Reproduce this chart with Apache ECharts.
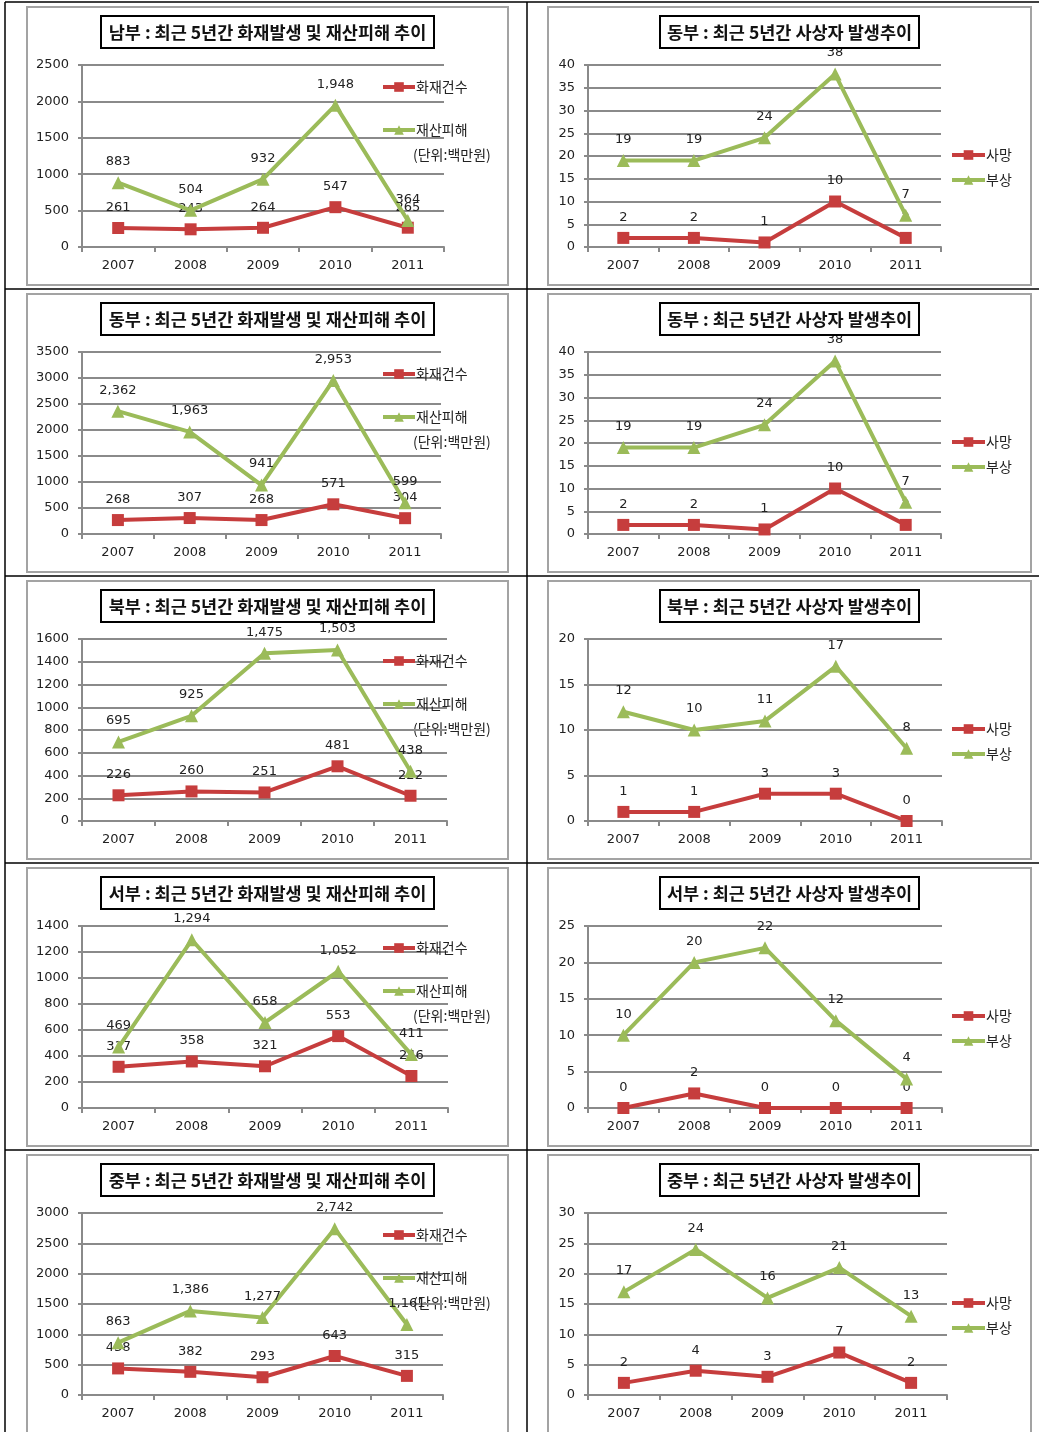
<!DOCTYPE html>
<html>
<head>
<meta charset="utf-8">
<script src="https://cdn.jsdelivr.net/npm/echarts@6/dist/echarts.min.js"></script>
<style>
  html, body { margin: 0; padding: 0; background: #fff; }
  #chart { width: 1039px; height: 1432px; }
</style>
</head>
<body>
<div id="chart"></div>
<script>
// Years on the category axis
const years = ['2007', '2008', '2009', '2010', '2011'];

// Fire counts (화재건수) and property damage (재산피해, 백만원) by district
const southFire = [261, 243, 264, 547, 265];
const southDamage = [883, 504, 932, 1948, 364];
const eastFire = [268, 307, 268, 571, 304];
const eastDamage = [2362, 1963, 941, 2953, 599];
const northFire = [226, 260, 251, 481, 222];
const northDamage = [695, 925, 1475, 1503, 438];
const westFire = [317, 358, 321, 553, 246];
const westDamage = [469, 1294, 658, 1052, 411];
const centralFire = [438, 382, 293, 643, 315];
const centralDamage = [863, 1386, 1277, 2742, 1161];

// Deaths (사망) and injuries (부상) by district
const eastDeaths = [2, 2, 1, 10, 2];
const eastInjuries = [19, 19, 24, 38, 7];
const northDeaths = [1, 1, 3, 3, 0];
const northInjuries = [12, 10, 11, 17, 8];
const westDeaths = [0, 2, 0, 0, 0];
const westInjuries = [10, 20, 22, 12, 4];
const centralDeaths = [2, 4, 3, 7, 2];
const centralInjuries = [17, 24, 16, 21, 13];

// Value-axis ranges
const fireAxisMax = [2500, 3500, 1600, 1400, 3000];
const fireAxisStep = [500, 500, 200, 200, 500];
const casualtyAxisMax = [40, 40, 20, 25, 30];
const casualtyAxisStep = [5, 5, 5, 5, 5];

const fireTitles = [
  '남부 : 최근 5년간 화재발생 및 재산피해 추이',
  '동부 : 최근 5년간 화재발생 및 재산피해 추이',
  '북부 : 최근 5년간 화재발생 및 재산피해 추이',
  '서부 : 최근 5년간 화재발생 및 재산피해 추이',
  '중부 : 최근 5년간 화재발생 및 재산피해 추이'
];
const casualtyTitles = [
  '동부 : 최근 5년간 사상자 발생추이',
  '동부 : 최근 5년간 사상자 발생추이',
  '북부 : 최근 5년간 사상자 발생추이',
  '서부 : 최근 5년간 사상자 발생추이',
  '중부 : 최근 5년간 사상자 발생추이'
];
const fireSeries = [
  [southFire, southDamage],
  [eastFire, eastDamage],
  [northFire, northDamage],
  [westFire, westDamage],
  [centralFire, centralDamage]
];
const casualtySeries = [
  [eastDeaths, eastInjuries],
  [eastDeaths, eastInjuries],
  [northDeaths, northInjuries],
  [westDeaths, westInjuries],
  [centralDeaths, centralInjuries]
];

// ---- layout ----
const ROW_H = 287;
const FONT = '"Noto Sans CJK KR", "Noto Sans", sans-serif';
const NUM_FONT = '"DejaVu Sans", "Noto Sans CJK KR", sans-serif';
const RED = '#C63D3D';
const GREEN = '#9BBB59';
const GRID_GRAY = '#8a8a8a';
const leftPlotRight = [444, 441, 447, 448, 443];
const rightPlotRight = [941, 941, 942, 942, 947];

const withCommas = v => String(v).replace(/\B(?=(\d{3})+(?!\d))/g, ',');

const grids = [], xAxes = [], yAxes = [], series = [], legends = [], graphics = [];

function addPanel(gridLeft, gridRight, top, max, step, pair, names, fmt) {
  const idx = grids.length;
  grids.push({ left: gridLeft, top: top, width: gridRight - gridLeft, height: 182 });
  xAxes.push({
    type: 'category', gridIndex: idx, data: years, boundaryGap: true,
    axisLine: { lineStyle: { color: '#8a8a8a', width: 2 } },
    axisTick: { show: true, length: 5, lineStyle: { color: '#8a8a8a', width: 2 } },
    axisLabel: { color: '#222', fontSize: 13, fontFamily: NUM_FONT, margin: 12 }
  });
  yAxes.push({
    type: 'value', gridIndex: idx, min: 0, max: max, interval: step,
    axisLine: { show: true, lineStyle: { color: '#8a8a8a', width: 2 } },
    axisTick: { show: true, length: 4, lineStyle: { color: '#8a8a8a', width: 2 } },
    axisLabel: { color: '#222', fontSize: 13, fontFamily: NUM_FONT, margin: 13,
      formatter: v => String(v) },
    splitLine: { show: true, lineStyle: { color: GRID_GRAY, width: 2 } }
  });
  const label = {
    show: true, position: 'top', distance: 8, color: '#222',
    fontSize: 13, fontFamily: NUM_FONT, formatter: p => fmt(p.value)
  };
  series.push({
    name: names[0], type: 'line', xAxisIndex: idx, yAxisIndex: idx, data: pair[0],
    symbol: 'rect', symbolSize: 12, lineStyle: { color: RED, width: 4 },
    itemStyle: { color: RED }, label: label, z: 3
  });
  series.push({
    name: names[1], type: 'line', xAxisIndex: idx, yAxisIndex: idx, data: pair[1],
    symbol: 'triangle', symbolSize: 13, lineStyle: { color: GREEN, width: 4 },
    itemStyle: { color: GREEN }, label: label, z: 4
  });
}

function titleBox(x, y, w, text) {
  graphics.push({
    type: 'rect', shape: { x: x, y: y, width: w, height: 32 },
    style: { fill: '#fff', stroke: '#000', lineWidth: 2 }, z: 10
  });
  graphics.push({
    type: 'text', x: x + w / 2, y: y + 16, z: 11,
    style: {
      text: text, fill: '#111', font: 'bold 17.5px ' + FONT,
      textAlign: 'center', textVerticalAlign: 'middle'
    }
  });
}

// table rules
for (let r = 0; r < 5; r++) {
  graphics.push({ type: 'line', shape: { x1: 5, y1: 2 + ROW_H * r, x2: 1039, y2: 2 + ROW_H * r },
    style: { stroke: '#000', lineWidth: 1.5 } });
}
graphics.push({ type: 'line', shape: { x1: 5, y1: 2, x2: 5, y2: 1432 }, style: { stroke: '#000', lineWidth: 1.5 } });
graphics.push({ type: 'line', shape: { x1: 527, y1: 2, x2: 527, y2: 1432 }, style: { stroke: '#000', lineWidth: 1.5 } });

const legendBase = {
  orient: 'vertical', itemWidth: 32, itemHeight: 12, selectedMode: false, padding: 0,
  lineStyle: { width: 4 },
  textStyle: { color: '#222', fontSize: 14, fontFamily: FONT, lineHeight: 14, padding: [0, 0, 0, -4] }
};

for (let r = 0; r < 5; r++) {
  const off = ROW_H * r;
  // chart frames
  graphics.push({ type: 'rect', shape: { x: 27, y: 7 + off, width: 481, height: 278 },
    style: { fill: 'none', stroke: '#a3a3a3', lineWidth: 2 } });
  graphics.push({ type: 'rect', shape: { x: 548, y: 7 + off, width: 483, height: 278 },
    style: { fill: 'none', stroke: '#a3a3a3', lineWidth: 2 } });

  titleBox(101, 16 + off, 333, fireTitles[r]);
  titleBox(660, 16 + off, 259, casualtyTitles[r]);

  addPanel(82, leftPlotRight[r], 65 + off, fireAxisMax[r], fireAxisStep[r],
    fireSeries[r], ['화재건수', '재산피해'], withCommas);
  addPanel(588, rightPlotRight[r], 65 + off, casualtyAxisMax[r], casualtyAxisStep[r],
    casualtySeries[r], ['사망', '부상'], v => String(v));

  legends.push(Object.assign({}, legendBase, {
    left: 381, top: 80 + off, itemGap: 29, data: ['화재건수', '재산피해']
  }));
  graphics.push({
    type: 'text', x: 413, y: 155 + off,
    style: { text: '(단위:백만원)', fill: '#222', font: '14px ' + FONT, textVerticalAlign: 'middle' }
  });
  legends.push(Object.assign({}, legendBase, {
    left: 950, top: 148 + off, itemWidth: 33, itemGap: 11, data: ['사망', '부상']
  }));
}

const chart = echarts.init(document.getElementById('chart'), null, { renderer: 'canvas' });
chart.setOption({
  backgroundColor: '#fff',
  animation: false,
  grid: grids,
  xAxis: xAxes,
  yAxis: yAxes,
  legend: legends,
  series: series,
  graphic: graphics
});
</script>
</body>
</html>
